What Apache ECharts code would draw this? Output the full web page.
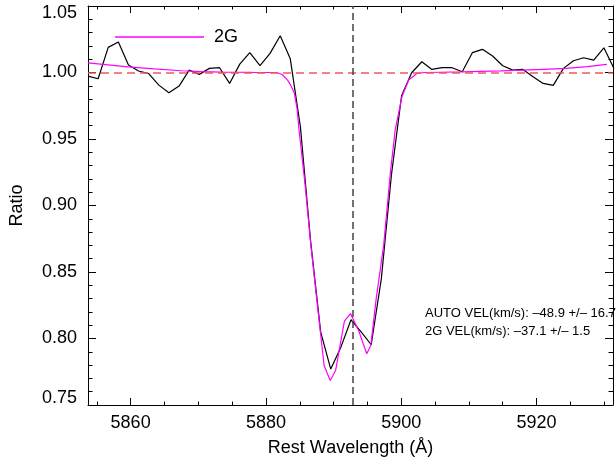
<!DOCTYPE html>
<html>
<head>
<meta charset="utf-8">
<script src="https://cdn.jsdelivr.net/npm/echarts@6/dist/echarts.min.js"></script>
<style>
  html, body { margin: 0; padding: 0; background: #fff; }
  #chart { width: 616px; height: 463px; }
</style>
</head>
<body>
<div id="chart"></div>
<script>
// Observed spectrum (continuum-normalised ratio) around the Na I D doublet
const wave = [
  5853.70, 5855.20, 5856.69, 5858.19, 5859.68, 5861.18, 5862.67, 5864.17, 5865.66, 5867.16,
  5868.65, 5870.15, 5871.64, 5873.14, 5874.63, 5876.13, 5877.62, 5879.12, 5880.61, 5882.11,
  5883.60, 5885.10, 5886.59, 5888.09, 5889.58, 5891.08, 5892.57, 5894.07, 5895.56, 5897.06,
  5898.55, 5900.05, 5901.54, 5903.04, 5904.53, 5906.03, 5907.52, 5909.02, 5910.51, 5912.01,
  5913.50, 5915.00, 5916.49, 5917.99, 5919.48, 5920.98, 5922.47, 5923.97, 5925.46, 5926.96,
  5928.45, 5929.95, 5931.44
];
const ratio = [
  0.9973, 0.9953, 1.0189, 1.0229, 1.0056, 1.0011, 0.9991, 0.9905, 0.9847, 0.9898,
  1.0018, 0.9986, 1.0031, 1.0036, 0.9918, 1.0063, 1.0149, 1.0051, 1.0144, 1.0276,
  1.0103, 0.9590, 0.8740, 0.8050, 0.7770, 0.7935, 0.8141, 0.8050, 0.7953, 0.8450,
  0.9230, 0.9825, 0.9998, 1.0081, 1.0023, 1.0036, 1.0036, 1.0006, 1.0149, 1.0174,
  1.0124, 1.0051, 1.0018, 1.0023, 0.9968, 0.9918, 0.9903, 1.0031, 1.0088, 1.0111,
  1.0093, 1.0186, 1.0030
];

// Two-Gaussian fit ("2G")
const modelWave = [
  5853.7, 5859.6, 5863.5, 5867.5, 5870.5, 5873.4, 5876.0, 5878.0, 5881.6, 5882.4,
  5883.2, 5883.7, 5884.2, 5884.6, 5884.9, 5885.8, 5886.6, 5887.5, 5888.6, 5889.5,
  5890.3, 5891.6, 5892.5, 5893.7, 5894.9, 5895.5, 5896.3, 5897.4, 5898.4, 5899.1,
  5900.1, 5901.1, 5902.3, 5903.5, 5905.7, 5909.0, 5911.6, 5914.7, 5917.9, 5921.0,
  5924.4, 5927.5, 5930.4
];
const modelRatio = [
  1.0073, 1.0043, 1.0027, 1.0013, 1.0007, 1.0003, 1.0002, 1.0001, 1.0000, 0.9985,
  0.9943, 0.9900, 0.9845, 0.9730, 0.9566, 0.9150, 0.8720, 0.8300, 0.7797, 0.7684,
  0.7760, 0.8131, 0.8187, 0.8060, 0.7885, 0.7948, 0.8300, 0.8700, 0.9250, 0.9566,
  0.9817, 0.9943, 0.9993, 1.0000, 1.0002, 1.0005, 1.0008, 1.0012, 1.0018, 1.0024,
  1.0031, 1.0044, 1.0061
];

const continuumLevel = 1.0;
const naDCentre = 5892.9;
const xRange = [5853.7, 5931.3];
const yRange = [0.75, 1.05];
const yTicks = 0.05;

const annotations = [
  'AUTO VEL(km/s): \u201348.9 +/\u2013 16.7',
  '2G VEL(km/s): \u201337.1 +/\u2013 1.5'
];

const FONT = 'Liberation Sans';
const zip = (a, b) => a.map((v, i) => [v, b[i]]);

const boxAxis = {
  axisLine: { show: true, lineStyle: { color: '#000', width: 1 } },
  splitLine: { show: false }
};

const chart = echarts.init(document.getElementById('chart'), null, { renderer: 'canvas' });

chart.setOption({
  backgroundColor: '#fff',
  animation: false,
  grid: { left: 86, right: 2, top: 6, bottom: 58 },
  legend: {
    data: ['2G'],
    left: 110,
    top: 23,
    icon: 'rect',
    itemWidth: 89,
    itemHeight: 1.5,
    textStyle: { fontFamily: FONT, fontSize: 18, color: '#000', padding: [0, 0, 0, 5] }
  },
  xAxis: [
    Object.assign({
      type: 'value', min: xRange[0], max: xRange[1],
      name: 'Rest Wavelength (\u00c5)', nameLocation: 'middle', nameGap: 34,
      nameTextStyle: { fontFamily: FONT, fontSize: 18, color: '#000' },
      axisTick: { show: true, inside: true, length: 7, lineStyle: { color: '#000', width: 1 } },
      minorTick: { show: true, splitNumber: 4, length: 3.5, lineStyle: { color: '#000', width: 1 } },
      axisLabel: {
        fontFamily: FONT, fontSize: 18, color: '#000', margin: 9,
        formatter: v => (Math.abs(v / 20 - Math.round(v / 20)) < 1e-6 ? String(Math.round(v)) : '')
      }
    }, boxAxis),
    Object.assign({
      type: 'value', min: xRange[0], max: xRange[1], position: 'top',
      axisTick: { show: true, inside: true, length: 7, lineStyle: { color: '#000', width: 1 } },
      minorTick: { show: true, splitNumber: 4, length: 3.5, lineStyle: { color: '#000', width: 1 } },
      axisLabel: { show: false }
    }, boxAxis)
  ],
  yAxis: [
    Object.assign({
      type: 'value', min: yRange[0], max: yRange[1], interval: yTicks,
      name: 'Ratio', nameLocation: 'middle', nameGap: 62,
      nameTextStyle: { fontFamily: FONT, fontSize: 18, color: '#000' },
      axisTick: { show: true, inside: true, length: 8, lineStyle: { color: '#000', width: 1 } },
      minorTick: { show: true, splitNumber: 5, length: 4.5, lineStyle: { color: '#000', width: 1 } },
      axisLabel: {
        fontFamily: FONT, fontSize: 18, color: '#000', margin: 11, lineHeight: 14,
        verticalAlignMaxLabel: 'top', verticalAlignMinLabel: 'bottom',
        formatter: v => v.toFixed(2)
      }
    }, boxAxis),
    Object.assign({
      type: 'value', min: yRange[0], max: yRange[1], interval: yTicks, position: 'right',
      axisTick: { show: true, inside: true, length: 8, lineStyle: { color: '#000', width: 1 } },
      minorTick: { show: true, splitNumber: 5, length: 4.5, lineStyle: { color: '#000', width: 1 } },
      axisLabel: { show: false }
    }, boxAxis)
  ],
  graphic: [
    { type: 'text', left: 425, top: 307, silent: true,
      style: { text: annotations[0], fontFamily: FONT, fontSize: 13, fill: '#000' } },
    { type: 'text', left: 425, top: 325, silent: true,
      style: { text: annotations[1], fontFamily: FONT, fontSize: 13, fill: '#000' } }
  ],
  series: [
    {
      name: 'data', type: 'line', xAxisIndex: 0, yAxisIndex: 0,
      data: zip(wave, ratio), symbol: 'none', clip: true,
      lineStyle: { color: '#000', width: 1.2 },
      itemStyle: { color: '#000' },
      markLine: {
        silent: true, symbol: 'none', animation: false,
        label: { show: false },
        data: [
          { yAxis: continuumLevel, lineStyle: { color: '#ee5a5a', type: [8, 5], width: 1.5 } },
          { xAxis: naDCentre, lineStyle: { color: '#444', type: [7, 4], width: 1.5 } }
        ]
      }
    },
    {
      name: '2G', type: 'line', xAxisIndex: 0, yAxisIndex: 0,
      data: zip(modelWave, modelRatio), symbol: 'none', clip: true,
      lineStyle: { color: '#ff00ff', width: 1.2 },
      itemStyle: { color: '#ff00ff' }
    }
  ]
});
</script>
</body>
</html>
